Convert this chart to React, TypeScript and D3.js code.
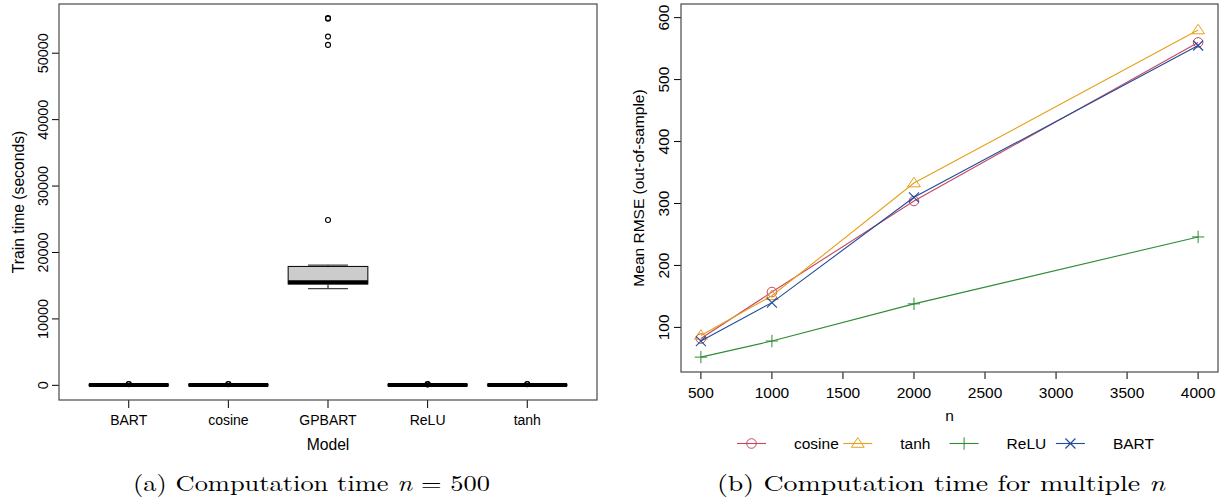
import React from "react";
import * as d3 from "d3";

// ---------- Panel (a) data: train time boxplots, n = 500 ----------
const models = ["BART", "cosine", "GPBART", "ReLU", "tanh"];
const lowerWhisker = [20, 20, 14550, 15, 20];
const q1 = [40, 40, 15250, 35, 40];
const median = [60, 60, 15500, 50, 60];
const q3 = [80, 80, 17900, 70, 80];
const upperWhisker = [120, 120, 18100, 110, 120];
const outliers: number[][] = [
  [160, 200],
  [160, 200],
  [24900, 51250, 52500, 55200, 55300],
  [140, 180],
  [160, 200],
];
const leftTicks = [0, 10000, 20000, 30000, 40000, 50000];

// ---------- Panel (b) data: mean RMSE vs n ----------
const nValues = [500, 1000, 2000, 4000];
const cosineVals = [82, 157, 304, 560];
const tanhVals = [87, 151, 333, 580];
const reluVals = [52, 78, 138, 246];
const bartVals = [78, 140, 310, 555];
const rightXTicks = [500, 1000, 1500, 2000, 2500, 3000, 3500, 4000];
const rightYTicks = [100, 200, 300, 400, 500, 600];

const seriesNames = ["cosine", "tanh", "ReLU", "BART"];
const seriesValues = [cosineVals, tanhVals, reluVals, bartVals];
const seriesColors = ["#C8465F", "#E5A01A", "#2E8B35", "#1F4C9A"];
const seriesShapes = ["circle", "triangle", "plus", "cross"];

const SANS = "'Liberation Sans', Arial, Helvetica, sans-serif";
const SERIF = "'Latin Modern Roman', 'DejaVu Serif', 'Liberation Serif', serif";

function Marker({ shape, x, y, color }: { shape: string; x: number; y: number; color: string }) {
  const s = 5;
  if (shape === "circle")
    return <circle cx={x} cy={y} r={4.8} fill="none" stroke={color} strokeWidth={1} />;
  if (shape === "triangle") {
    const h = 5.8;
    return (
      <polygon
        points={`${x},${y - h} ${x - 6.4},${y + h * 0.65} ${x + 6.4},${y + h * 0.65}`}
        fill="none"
        stroke={color}
        strokeWidth={1}
      />
    );
  }
  if (shape === "plus")
    return (
      <g stroke={color} strokeWidth={1}>
        <line x1={x - 6.2} x2={x + 6.2} y1={y} y2={y} />
        <line x1={x} x2={x} y1={y - 6.2} y2={y + 6.2} />
      </g>
    );
  return (
    <g stroke={color} strokeWidth={1.1}>
      <line x1={x - s} x2={x + s} y1={y - s} y2={y + s} />
      <line x1={x - s} x2={x + s} y1={y + s} y2={y - s} />
    </g>
  );
}

export default function App() {
  // Left panel geometry
  const L = { left: 59, right: 597, top: 4, bottom: 400 };
  const xL = d3.scaleLinear().domain([0.3, 5.7]).range([L.left, L.right]);
  const yL = d3.scaleLinear().domain([-2208, 57408]).range([L.bottom, L.top]);
  const boxHalf = xL(1.4) - xL(1);
  const capHalf = boxHalf / 2;

  // Right panel geometry
  const R = { left: 681, right: 1218, top: 4, bottom: 372 };
  const xR = d3.scaleLinear().domain([360, 4140]).range([R.left, R.right]);
  const yR = d3.scaleLinear().domain([28, 622]).range([R.bottom, R.top]);
  const line = d3
    .line<number>()
    .x((_, i) => xR(nValues[i]))
    .y((d) => yR(d));

  const frame = "#4a4a4a";
  const legendX0 = 737;
  const legendStep = 106.3;
  const legendY = 443.5;

  return (
    <svg width={1225} height={502} style={{ position: "absolute", left: 0, top: 0, background: "#fff" }}>
      <rect x={0} y={0} width={1225} height={502} fill="#fff" />
      {/* ---------------- Panel (a) ---------------- */}
      <g fontFamily={SANS} fontSize={14} fill="#000">
        {models.map((m, i) => {
          const cx = xL(i + 1);
          return (
            <g key={m}>
              <line x1={cx} x2={cx} y1={yL(lowerWhisker[i])} y2={yL(q1[i])} stroke="#000" strokeDasharray="4,3" />
              <line x1={cx} x2={cx} y1={yL(q3[i])} y2={yL(upperWhisker[i])} stroke="#000" strokeDasharray="4,3" />
              <line x1={cx - capHalf} x2={cx + capHalf} y1={yL(lowerWhisker[i])} y2={yL(lowerWhisker[i])} stroke="#444" strokeWidth={1.3} />
              <line x1={cx - capHalf} x2={cx + capHalf} y1={yL(upperWhisker[i])} y2={yL(upperWhisker[i])} stroke="#444" strokeWidth={1.3} />
              <rect
                x={cx - boxHalf}
                y={yL(q3[i])}
                width={boxHalf * 2}
                height={Math.max(0.01, yL(q1[i]) - yL(q3[i]))}
                fill="#cccccc"
                stroke="#000"
                strokeWidth={1}
              />
              <line x1={cx - boxHalf} x2={cx + boxHalf} y1={yL(median[i])} y2={yL(median[i])} stroke="#000" strokeWidth={4} />
              {outliers[i].map((v, k) => (
                <circle key={k} cx={cx} cy={yL(v)} r={2.5} fill="none" stroke="#000" strokeWidth={1.1} />
              ))}
              <line x1={cx} x2={cx} y1={L.bottom} y2={L.bottom + 8} stroke="#000" />
              <text x={cx} y={425}>
                <tspan textAnchor="middle">{m}</tspan>
              </text>
            </g>
          );
        })}
        {leftTicks.map((t) => (
          <g key={t}>
            <line x1={L.left - 7} x2={L.left} y1={yL(t)} y2={yL(t)} stroke="#000" />
            <text transform={`translate(${L.left - 11},${yL(t)}) rotate(-90)`} textAnchor="middle" fontSize={14.4}>
              {t}
            </text>
          </g>
        ))}
        <rect x={L.left} y={L.top} width={L.right - L.left} height={L.bottom - L.top} fill="none" stroke={frame} strokeWidth={1.2} />
        <text transform={`translate(23.5,${(L.top + L.bottom) / 2}) rotate(-90)`} textAnchor="middle" fontSize={15.7}>
          Train time (seconds)
        </text>
        <text x={(L.left + L.right) / 2} y={449.5} textAnchor="middle" fontSize={15.7}>Model</text>
      </g>

      {/* ---------------- Panel (b) ---------------- */}
      <g fontFamily={SANS} fontSize={15.5} fill="#000">
        {seriesValues.map((vals, si) => (
          <g key={seriesNames[si]}>
            <path d={line(vals) || ""} fill="none" stroke={seriesColors[si]} strokeWidth={1.1} />
            {vals.map((v, k) => (
              <Marker key={k} shape={seriesShapes[si]} x={xR(nValues[k])} y={yR(v)} color={seriesColors[si]} />
            ))}
          </g>
        ))}
        {rightXTicks.map((t) => (
          <g key={t}>
            <line x1={xR(t)} x2={xR(t)} y1={R.bottom} y2={R.bottom + 7} stroke="#000" />
            <text x={xR(t)} y={397.5} textAnchor="middle">{t}</text>
          </g>
        ))}
        {rightYTicks.map((t) => (
          <g key={t}>
            <line x1={R.left - 7} x2={R.left} y1={yR(t)} y2={yR(t)} stroke="#000" />
            <text transform={`translate(${R.left - 12},${yR(t)}) rotate(-90)`} textAnchor="middle">
              {t}
            </text>
          </g>
        ))}
        <rect x={R.left} y={R.top} width={R.right - R.left} height={R.bottom - R.top} fill="none" stroke={frame} strokeWidth={1.2} />
        <text transform={`translate(643.5,${(R.top + R.bottom) / 2}) rotate(-90)`} textAnchor="middle">
          Mean RMSE (out-of-sample)
        </text>
        <text x={(R.left + R.right) / 2} y={421} textAnchor="middle">n</text>

        {seriesNames.map((name, i) => {
          const x0 = legendX0 + i * legendStep;
          return (
            <g key={name}>
              <line x1={x0} x2={x0 + 29} y1={legendY} y2={legendY} stroke={seriesColors[i]} strokeWidth={1.1} />
              <Marker shape={seriesShapes[i]} x={x0 + 14.5} y={legendY} color={seriesColors[i]} />
              <text x={x0 + 57} y={legendY + 5.5}>{name}</text>
            </g>
          );
        })}
      </g>

      {/* ---------------- Captions ---------------- */}
      <g fontFamily={SERIF} fontSize={22} fill="#000">
        <text x={133} y={491} textLength={357} lengthAdjust="spacingAndGlyphs">
          (a) Computation time <tspan fontStyle="italic">n</tspan> = 500
        </text>
        <text x={717} y={491} textLength={448} lengthAdjust="spacingAndGlyphs">
          (b) Computation time for multiple <tspan fontStyle="italic">n</tspan>
        </text>
      </g>
    </svg>
  );
}
